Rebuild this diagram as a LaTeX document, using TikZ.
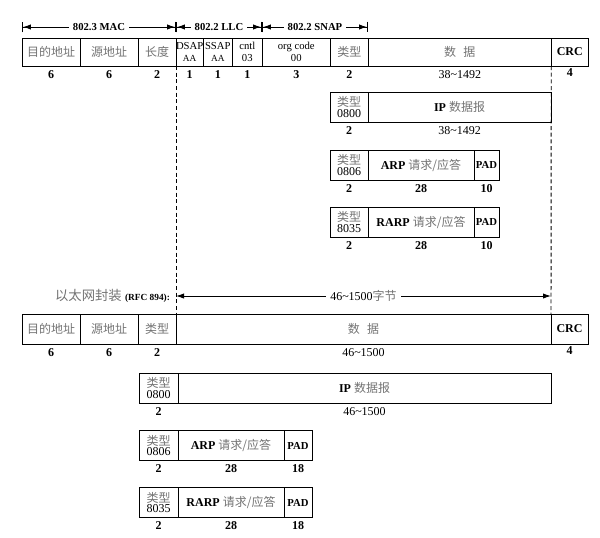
\documentclass[tikz,border=0pt]{standalone}
\usepackage{fontspec}
\setmainfont{Liberation Serif}
\newfontfamily\cjk{Noto Sans CJK SC}
\usetikzlibrary{positioning,arrows.meta}
\newcommand\zh[1]{{\cjk\color{black!55}#1}}
\newcommand\tld{\textasciitilde}
\tikzset{
  field/.style={draw, line width=0.7pt, outer sep=0pt, inner sep=0pt, anchor=west, align=center, font=\small},
  wd/.style={minimum width=#1*0.75pt},
  ht/.style={minimum height=#1*0.75pt},
  bytes/.style={font=\small\bfseries, inner sep=1pt},
  span/.style={line width=0.7pt, {Bar[width=8pt]Latex[length=6pt,width=4pt]}-{Latex[length=6pt,width=4pt]Bar[width=8pt]}},
  spanlbl/.style={fill=white, font=\footnotesize\bfseries, inner sep=3pt},
  guide/.style={line width=0.7pt, dash pattern=on 3pt off 2pt},
}
\begin{document}
\begin{tikzpicture}[x=0.75pt, y=-0.75pt]
\useasboundingbox (0,0) rectangle (600,537);

% IEEE 802.2/802.3 frame
\node[field, wd=58, ht=28] (dst) at (22,52) {\zh{目的地址}};
\node[field, wd=58, ht=28, right=0pt of dst] (src) {\zh{源地址}};
\node[field, wd=38, ht=28, right=0pt of src] (len) {\zh{长度}};
\node[field, wd=27, ht=28, right=0pt of len, font=\footnotesize] (dsap) {DSAP\\[-1pt]{\scriptsize AA}};
\node[field, wd=29, ht=28, right=0pt of dsap, font=\footnotesize] (ssap) {SSAP\\[-1pt]{\scriptsize AA}};
\node[field, wd=30, ht=28, right=0pt of ssap, font=\footnotesize] (cntl) {cntl\\[-1pt]03};
\node[field, wd=68, ht=28, right=0pt of cntl, font=\footnotesize] (org) {org code\\[-1pt]00};
\node[field, wd=38, ht=28, right=0pt of org] (type) {\zh{类型}};
\node[field, wd=183, ht=28, right=0pt of type] (data) {\zh{数\hspace{0.6em}据}};
\node[field, wd=37, ht=28, right=0pt of data, font=\small\bfseries] (crc) {CRC};

\node[bytes, below=2pt of dst] (dstn) {6};
\node[bytes, below=2pt of src] (srcn) {6};
\node[bytes, below=2pt of len] (lenn) {2};
\node[bytes, below=2pt of dsap] (dsapn) {1};
\node[bytes, below=2pt of ssap] (ssapn) {1};
\node[bytes, below=2pt of cntl] (cntln) {1};
\node[bytes, below=2pt of org] (orgn) {3};
\node[bytes, below=2pt of type] (typen) {2};
\node[bytes, below=2pt of data, font=\small] (datan) {38\tld1492};
\node[bytes, below=1pt of crc] (crcn) {4};

\coordinate (mac0) at (22,27);
\coordinate (mac1) at (176,27);
\coordinate (llc1) at (262,27);
\coordinate (snap1) at (368,27);
\draw[span] (mac0) -- node[spanlbl] {802.3 MAC} (mac1);
\draw[span] (mac1) -- node[spanlbl] {802.2 LLC} (llc1);
\draw[span] (llc1) -- node[spanlbl] {802.2 SNAP} (snap1);

\node[field, wd=38, ht=30] (iptype) at (330,107) {\zh{类型}\\[-3pt]0800};
\node[field, wd=183, ht=30, right=0pt of iptype] (ipdata) {\textbf{IP} \zh{数据报}};
\node[bytes, below=2pt of iptype] (iptypen) {2};
\node[bytes, below=2pt of ipdata, font=\small] (ipdatan) {38\tld1492};

\node[field, wd=38, ht=30] (arptype) at (330,165) {\zh{类型}\\[-3pt]0806};
\node[field, wd=106, ht=30, right=0pt of arptype] (arpdata) {\textbf{ARP} \zh{请求/应答}};
\node[field, wd=25, ht=30, right=0pt of arpdata, font=\footnotesize\bfseries] (arppad) {PAD};
\node[bytes, below=2pt of arptype] (arptypen) {2};
\node[bytes, below=2pt of arpdata] (arpdatan) {28};
\node[bytes, below=2pt of arppad] (arppadn) {10};

\node[field, wd=38, ht=30] (rarptype) at (330,222) {\zh{类型}\\[-3pt]8035};
\node[field, wd=106, ht=30, right=0pt of rarptype] (rarpdata) {\textbf{RARP} \zh{请求/应答}};
\node[field, wd=25, ht=30, right=0pt of rarpdata, font=\footnotesize\bfseries] (rarppad) {PAD};
\node[bytes, below=2pt of rarptype] (rarptypen) {2};
\node[bytes, below=2pt of rarpdata] (rarpdatan) {28};
\node[bytes, below=2pt of rarppad] (rarppadn) {10};

% Ethernet encapsulation
\coordinate (enc0) at (176,296);
\coordinate (enc1) at (551,296);
\draw[line width=0.7pt, {Latex[length=6pt,width=4pt]}-{Latex[length=6pt,width=4pt]}] (enc0) -- node[fill=white, font=\small] {46\tld1500\zh{字节}} (enc1);
\node[left=1pt of enc0] (enclbl) {\zh{以太网封装} {\scriptsize\bfseries (RFC 894):}};

\node[field, wd=58, ht=30] (edst) at (22,329) {\zh{目的地址}};
\node[field, wd=58, ht=30, right=0pt of edst] (esrc) {\zh{源地址}};
\node[field, wd=38, ht=30, right=0pt of esrc] (etype) {\zh{类型}};
\node[field, wd=375, ht=30, right=0pt of etype] (edata) {\zh{数\hspace{0.6em}据}};
\node[field, wd=37, ht=30, right=0pt of edata, font=\small\bfseries] (ecrc) {CRC};
\node[bytes, below=2pt of edst] (edstn) {6};
\node[bytes, below=2pt of esrc] (esrcn) {6};
\node[bytes, below=2pt of etype] (etypen) {2};
\node[bytes, below=2pt of edata, font=\small] (edatan) {46\tld1500};
\node[bytes, below=1pt of ecrc] (ecrcn) {4};

\draw[guide] (len.south east) -- (etype.north east);
\draw[guide] (data.south east) -- (ecrc.north west);

\node[field, wd=39, ht=30] (eiptype) at (139,388) {\zh{类型}\\[-3pt]0800};
\node[field, wd=373, ht=30, right=0pt of eiptype] (eipdata) {\textbf{IP} \zh{数据报}};
\node[bytes, below=2pt of eiptype] (eiptypen) {2};
\node[bytes, below=2pt of eipdata, font=\small] (eipdatan) {46\tld1500};

\node[field, wd=39, ht=30] (earptype) at (139,445.5) {\zh{类型}\\[-3pt]0806};
\node[field, wd=106, ht=30, right=0pt of earptype] (earpdata) {\textbf{ARP} \zh{请求/应答}};
\node[field, wd=28, ht=30, right=0pt of earpdata, font=\footnotesize\bfseries] (earppad) {PAD};
\node[bytes, below=2pt of earptype] (earptypen) {2};
\node[bytes, below=2pt of earpdata] (earpdatan) {28};
\node[bytes, below=2pt of earppad] (earppadn) {18};

\node[field, wd=39, ht=30] (erarptype) at (139,502.5) {\zh{类型}\\[-3pt]8035};
\node[field, wd=106, ht=30, right=0pt of erarptype] (erarpdata) {\textbf{RARP} \zh{请求/应答}};
\node[field, wd=28, ht=30, right=0pt of erarpdata, font=\footnotesize\bfseries] (erarppad) {PAD};
\node[bytes, below=2pt of erarptype] (erarptypen) {2};
\node[bytes, below=2pt of erarpdata] (erarpdatan) {28};
\node[bytes, below=2pt of erarppad] (erarppadn) {18};
\end{tikzpicture}
\end{document}
